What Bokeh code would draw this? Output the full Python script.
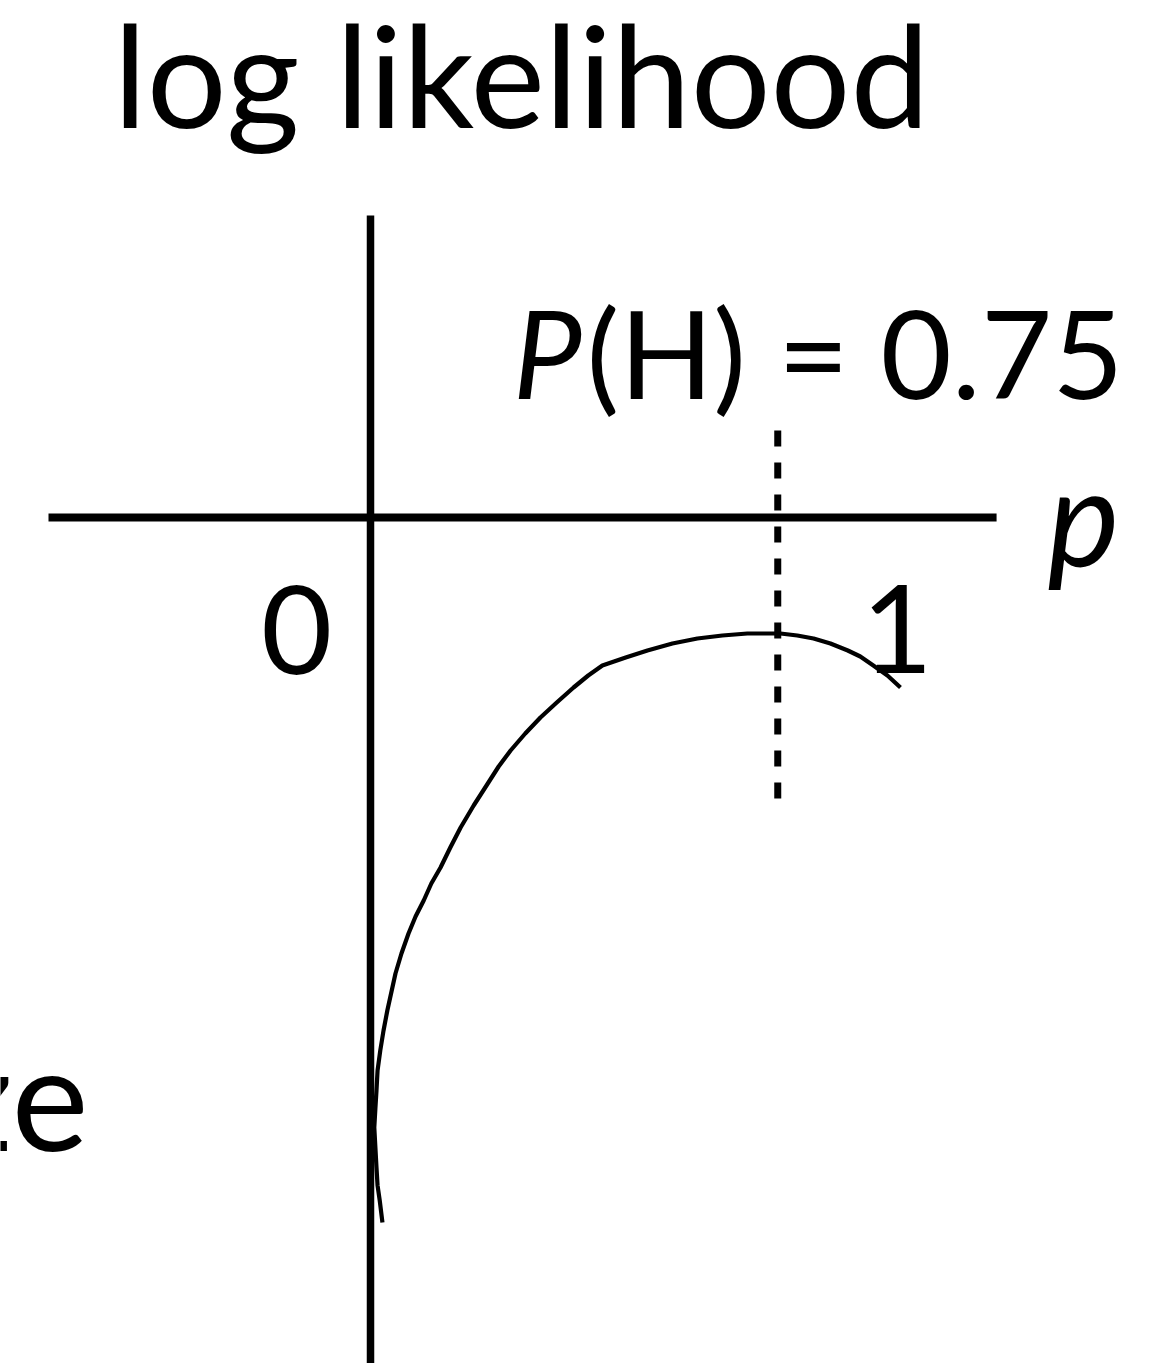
from bokeh.plotting import figure
from bokeh.models import Range1d, ColumnDataSource
from bokeh.core.properties import value
from bokeh.embed import file_html
from bokeh.resources import INLINE

# Log-likelihood curve as sketched (p, log-likelihood in sketch units)
curve_p = [0.022, 0.017, 0.013, 0.011, 0.009, 0.007, 0.009, 0.011, 0.013,
           0.018, 0.024, 0.031, 0.046, 0.057, 0.070, 0.083, 0.098, 0.112,
           0.129, 0.147, 0.166, 0.190, 0.216, 0.236, 0.258, 0.285, 0.313,
           0.343, 0.374, 0.401, 0.427, 0.470, 0.510, 0.556, 0.602, 0.648,
           0.694, 0.755, 0.786, 0.816, 0.847, 0.879, 0.902, 0.926, 0.952,
           0.976]
curve_ll = [-7.05, -6.83, -6.68, -6.50, -6.30, -6.10, -5.91, -5.73, -5.53,
            -5.33, -5.13, -4.93, -4.56, -4.36, -4.16, -3.99, -3.83, -3.66,
            -3.50, -3.30, -3.10, -2.88, -2.66, -2.49, -2.33, -2.16, -2.00,
            -1.85, -1.70, -1.58, -1.48, -1.40, -1.33, -1.26, -1.21, -1.18,
            -1.16, -1.16, -1.18, -1.21, -1.26, -1.33, -1.39, -1.48, -1.58,
            -1.70]

p_hat = 0.75            # maximum-likelihood estimate P(H)
tick_vals = [0, 1]
tick_labels = ["0", "1"]

FONT = value("Lato")

fig = figure(width=1163, height=1363, output_backend="svg", toolbar_location=None,
             x_range=Range1d(-370 / 543, 793 / 543), y_range=Range1d(-8.46, 5.17),
             min_border=0, outline_line_color=None, background_fill_color="white",
             border_fill_color="white")
fig.axis.visible = False
fig.grid.visible = False

# hand-drawn axes
fig.segment(x0=[0], y0=[3.02], x1=[0], y1=[-8.6], line_color="black", line_width=7.5)
fig.segment(x0=[-0.593], y0=[0], x1=[1.153], y1=[0], line_color="black", line_width=8)

# marker at the maximum
fig.segment(x0=[p_hat], y0=[0.87], x1=[p_hat], y1=[-2.83], line_color="black",
            line_width=7, line_dash="16 16")

src = ColumnDataSource(dict(p=curve_p, ll=curve_ll))
fig.line("p", "ll", source=src, line_color="black", line_width=4.2,
         line_join="round", line_cap="butt")

# tick labels
tick_x = [-0.136, 0.970]
fig.text(x=tick_x, y=[-1.12, -1.11], text=tick_labels, text_font=FONT,
         text_font_size="123px", text_align="center", text_baseline="alphabetic")

# title
fig.text(x=[0.278], y=[4.44], text=["log likelihood"], text_font=FONT,
         text_font_size="141px", text_align="center", text_baseline="alphabetic")

# P(H) = 0.75 annotation
fig.text(x=[0.262], y=[1.66], text=["P"], text_font=FONT, text_font_style="italic",
         text_font_size="123px", text_align="left", text_baseline="alphabetic")
fig.text(x=[0.398], y=[1.66], text=[f"(H) = {p_hat}"], text_font=FONT,
         text_font_size="123px", text_align="left", text_baseline="alphabetic")

# axis variable
fig.text(x=[1.247], y=[0.03], text=["p"], text_font=FONT, text_font_style="italic",
         text_font_size="136px", text_align="left", text_baseline="alphabetic")

# word ending at the left edge
fig.text(x=[-0.519], y=[-5.77], text=["ze"], text_font=FONT,
         text_font_size="146px", text_align="right", text_baseline="alphabetic")

open("out.html", "w").write(file_html(fig, INLINE))
